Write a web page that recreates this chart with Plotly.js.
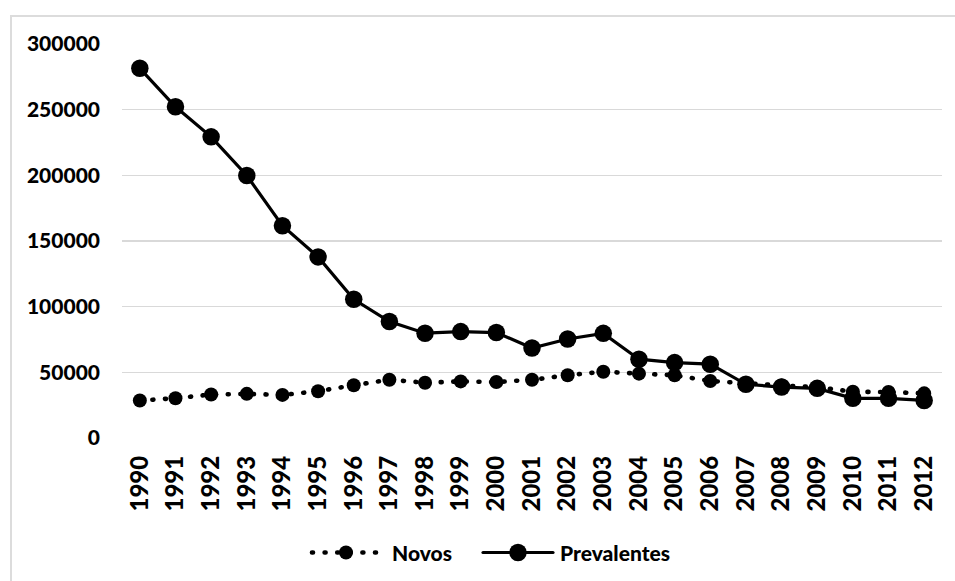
<!DOCTYPE html>
<html>
<head>
<meta charset="utf-8">
<script src="https://cdn.plot.ly/plotly-3.0.1.min.js"></script>
<style>
  html, body { margin: 0; padding: 0; background: #fff; }
  #frame { position: absolute; left: 10px; top: 15px; width: 1000px; height: 700px;
           border-left: 2px solid #dcdcdc; border-top: 2px solid #dcdcdc; }
  #chart { position: absolute; left: 0; top: 0; width: 955px; height: 581px; }
  .scatterlayer .js-line, .shapelayer path { stroke-linecap: round; }
</style>
</head>
<body>
<div id="frame"></div>
<div id="chart"></div>
<script>
const years = ["1990","1991","1992","1993","1994","1995","1996","1997","1998","1999","2000",
               "2001","2002","2003","2004","2005","2006","2007","2008","2009","2010","2011","2012"];
const novos = [28500, 30300, 33100, 33600, 32800, 35600, 40200, 44400, 42100, 43100, 42600,
               44300, 47800, 50500, 49000, 47800, 43400, 41500, 40000, 38800, 35200, 35000, 34000];
const prevalentes = [281500, 252200, 229300, 199900, 161600, 137900, 105600, 88700, 79800, 81000, 80300,
                     68500, 75400, 79700, 60000, 57400, 56200, 40900, 38800, 37800, 30200, 30200, 28600];
const yTicks = [0, 50000, 100000, 150000, 200000, 250000, 300000];
const seriesNames = ["Novos", "Prevalentes"];

const font = "Lato, 'Open Sans', sans-serif";
const novosLine = { color: "#000", width: 4.6, dash: "1px,11.6px" };
const prevLine = { color: "#000", width: 3.2 };

const traces = [
  {
    x: years, y: novos, name: seriesNames[0], type: "scatter", mode: "lines+markers",
    line: novosLine, marker: { symbol: "circle", size: 14, color: "#000" }
  },
  {
    x: years, y: prevalentes, name: seriesNames[1], type: "scatter", mode: "lines+markers",
    line: prevLine, marker: { symbol: "circle", size: 17.5, color: "#000" }
  }
];

// custom legend (paper coordinates; plot area 122..942 x, 44..437.6 y)
const L = 122, W = 820, B = 437.6, H = 393.6;
const px = v => (v - L) / W;
const py = v => (B - v) / H;
const legY = py(552);
const shapes = [
  { type: "line", xref: "paper", yref: "paper", x0: px(312), x1: px(380), y0: legY, y1: legY, line: novosLine },
  { type: "circle", xref: "paper", yref: "paper", xsizemode: "pixel", ysizemode: "pixel",
    xanchor: px(346), yanchor: legY, x0: -7, x1: 7, y0: -7, y1: 7,
    fillcolor: "#000", line: { width: 0 } },
  { type: "line", xref: "paper", yref: "paper", x0: px(483), x1: px(553), y0: legY, y1: legY, line: prevLine },
  { type: "circle", xref: "paper", yref: "paper", xsizemode: "pixel", ysizemode: "pixel",
    xanchor: px(518), yanchor: legY, x0: -8.75, x1: 8.75, y0: -8.75, y1: 8.75,
    fillcolor: "#000", line: { width: 0 } }
];
const legFont = { family: font, size: 21, color: "#000", weight: 900 };
const annotations = [
  { text: seriesNames[0], xref: "paper", yref: "paper", x: px(390), y: legY, xanchor: "left", yanchor: "middle", showarrow: false, font: legFont },
  { text: seriesNames[1], xref: "paper", yref: "paper", x: px(558), y: legY, xanchor: "left", yanchor: "middle", showarrow: false, font: legFont }
];

const layout = {
  width: 955, height: 581,
  paper_bgcolor: "rgba(0,0,0,0)", plot_bgcolor: "rgba(0,0,0,0)",
  margin: { l: 122, r: 13, t: 44, b: 143.4, autoexpand: false },
  font: { family: font, color: "#000" },
  showlegend: false,
  shapes: shapes,
  annotations: annotations,
  xaxis: {
    type: "category", range: [-0.5, 22.5], tickvals: years, ticktext: years,
    tickangle: -90, showgrid: false, zeroline: false, showline: false,
    ticks: "", ticklabelstandoff: 12, automargin: false,
    tickfont: { family: font, size: 24, color: "#000", weight: 900 }
  },
  yaxis: {
    range: [0, 300000], tickvals: yTicks, ticktext: yTicks.map(String),
    showgrid: true, gridcolor: "#d9d9d9", gridwidth: 1.5, automargin: false,
    zeroline: false, showline: false, ticks: "", ticklabelstandoff: 21,
    tickfont: { family: font, size: 21, color: "#000", weight: 900 }
  }
};

Plotly.newPlot("chart", traces, layout, { displayModeBar: false, staticPlot: true });
</script>
</body>
</html>
